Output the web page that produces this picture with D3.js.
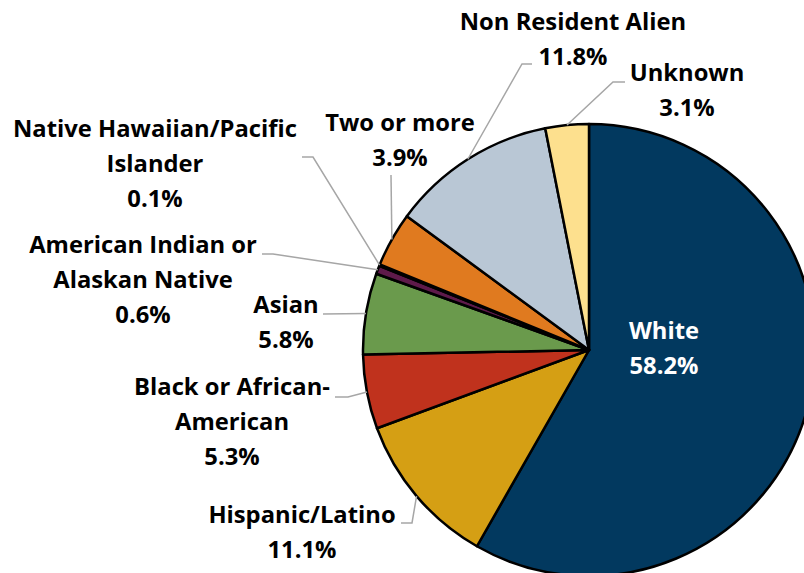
<!DOCTYPE html>
<html><head><meta charset="utf-8">
<script src="https://cdn.jsdelivr.net/npm/d3@7"></script>
<style>body{margin:0;background:#fff}svg{display:block}</style>
</head><body>
<script>
const categories = ["White","Hispanic/Latino","Black or African-American","Asian","American Indian or Alaskan Native","Native Hawaiian/Pacific Islander","Two or more","Non Resident Alien","Unknown"];
const values = [58.2, 11.1, 5.3, 5.8, 0.6, 0.1, 3.9, 11.8, 3.1];
const valueLabels = ["58.2%","11.1%","5.3%","5.8%","0.6%","0.1%","3.9%","11.8%","3.1%"];
const colors = ["#02395f","#d59f14","#c0321d","#6a9a4c","#5e1a4a","#3a1030","#e07a1f","#b9c7d5","#fde08e"];
const labelLines = [
  ["White","58.2%"],
  ["Hispanic/Latino","11.1%"],
  ["Black or African-","American","5.3%"],
  ["Asian","5.8%"],
  ["American Indian or","Alaskan Native","0.6%"],
  ["Native Hawaiian/Pacific","Islander","0.1%"],
  ["Two or more","3.9%"],
  ["Non Resident Alien","11.8%"],
  ["Unknown","3.1%"]
];
const layout = [
  {x:664, y:339, color:"#fff"},
  {x:302, y:523, elbow:[412,523], end:401},
  {x:232, y:395, elbow:[348,397], end:335},
  {x:286, y:313, elbow:[323,314], end:323},
  {x:143, y:253, elbow:[273,254], end:262},
  {x:155, y:137, elbow:[313,157], end:302},
  {x:400, y:131, elbow:[391,175], end:391},
  {x:573, y:30, elbow:[522,64], end:532},
  {x:687, y:81, elbow:[613,82], end:625}
];

const W=804,H=573, cx=589, cy=350, R=226, lineH=35;
const svg = d3.select("body").append("svg").attr("width",W).attr("height",H);
const pie = d3.pie().sort(null).value(d=>d)(values);
const arc = d3.arc().innerRadius(0).outerRadius(R);
const g = svg.append("g").attr("transform",`translate(${cx},${cy})`);
g.selectAll("path").data(pie).join("path")
  .attr("d",arc).attr("fill",(d,i)=>colors[i])
  .attr("stroke","#000").attr("stroke-width",2.5).attr("stroke-linejoin","round");

pie.forEach((d,i)=>{
  const L = layout[i];
  if(!L.elbow) return;
  const a=(d.startAngle+d.endAngle)/2;
  const sx=cx+R*Math.sin(a), sy=cy-R*Math.cos(a);
  const pts=[[sx,sy],L.elbow,[L.end,L.elbow[1]]];
  svg.append("path").attr("d",d3.line()(pts)).attr("fill","none")
    .attr("stroke","#a6a6a6").attr("stroke-width",1.5);
});

const fam="'Open Sans', Lato, sans-serif";
const probe=svg.append("text").attr("font-family",fam).attr("font-weight","bold").attr("font-size",100).text("Native Hawaiian/Pacific");
const fs=Math.min(26, 100*284/probe.node().getComputedTextLength());
probe.remove();

labelLines.forEach((lines,i)=>{
  const L=layout[i];
  const t=svg.append("text").attr("text-anchor","middle")
    .attr("font-family",fam).attr("font-weight","bold")
    .attr("font-size",fs).attr("fill",L.color||"#000");
  lines.forEach((s,j)=>t.append("tspan").attr("x",L.x).attr("y",L.y+j*lineH).text(s));
});
</script>
</body></html>
